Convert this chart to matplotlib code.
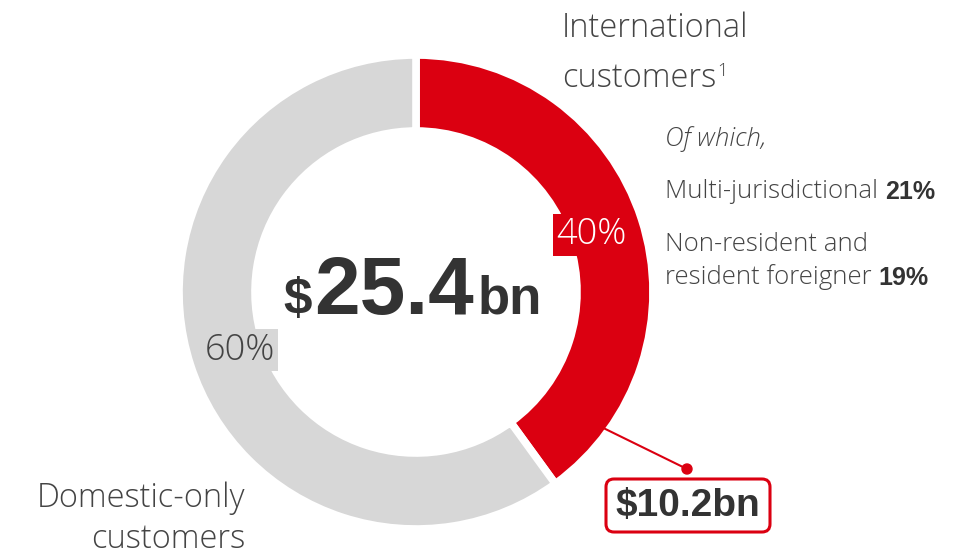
import numpy as np
import matplotlib.pyplot as plt
from matplotlib.patches import FancyBboxPatch, Circle

# -----------------------
# Data
# -----------------------
segments = ["International customers", "Domestic-only customers"]
shares = [40, 60]                      # % of revenue
seg_colors = ["#db0011", "#d7d7d7"]
total_bn = 25.4
intl_bn = 10.2
sub_labels = ["Multi-jurisdictional", "Non-resident and\nresident foreigner"]
sub_shares = [21, 19]

# -----------------------
# Layout (pixel space, y up)
# -----------------------
W, H = 957, 555
cx, cy = 416, H - 292
R_out, ring = 237, 76
dark = "#333333"
grey_txt = "#444444"
font = "Open Sans"
bold_font = "Liberation Sans"

fig = plt.figure(figsize=(W / 100, H / 100), dpi=100)
ax = fig.add_axes([0, 0, 1, 1])

ax.pie(shares, colors=seg_colors, startangle=90, counterclock=False,
       radius=R_out, center=(cx, cy),
       wedgeprops=dict(width=ring, edgecolor="white", linewidth=5.5))
ax.set_xlim(0, W)
ax.set_ylim(0, H)
ax.set_aspect("auto")
ax.axis("off")

# percentage tags on the ring
ax.text(591, H - 235, f"{shares[0]}%", color="white", fontsize=26, family=font,
        fontweight="light", ha="center", va="center",
        bbox=dict(boxstyle="square,pad=0.08", fc=seg_colors[0], ec="none"))
ax.text(240, H - 350, f"{shares[1]}%", color=grey_txt, fontsize=26, family=font,
        fontweight="light", ha="center", va="center",
        bbox=dict(boxstyle="square,pad=0.08", fc=seg_colors[1], ec="none"))

# centre total
base = H - 314
ax.text(312, base, "$", fontsize=37, family=bold_font, fontweight="bold",
        color=dark, ha="right", va="baseline")
ax.text(314, base, f"{total_bn}", fontsize=59, family=bold_font, fontweight="bold",
        color=dark, ha="left", va="baseline")
ax.text(478, base, "bn", fontsize=38, family=bold_font, fontweight="bold",
        color=dark, ha="left", va="baseline")

# segment names
ax.text(562, H - 37, "International", fontsize=23.5, family=font,
        fontweight="light", color=grey_txt, ha="left", va="baseline")
t0 = ax.text(562, H - 87, "customers", fontsize=23.5, family=font,
             fontweight="light", color=grey_txt, ha="left", va="baseline")
ax.annotate("1", xycoords=t0, xy=(1, 0), xytext=(1, 14), textcoords="offset points",
            fontsize=13, family=font, fontweight="light", color=grey_txt,
            va="baseline")
ax.text(245, H - 507, "Domestic-only", fontsize=23.5, family=font,
        fontweight="light", color=grey_txt, ha="right", va="baseline")
ax.text(245, H - 548, "customers", fontsize=23.5, family=font,
        fontweight="light", color=grey_txt, ha="right", va="baseline")

# breakdown of international
ax.text(665, H - 146, "Of which,", fontsize=18.5, family=font, style="italic",
        fontweight="light", color=grey_txt, ha="left", va="baseline")
t = ax.text(665, H - 198, sub_labels[0] + " ", fontsize=18.5, family=font,
            fontweight="light", color=grey_txt, ha="left", va="baseline")
ax.annotate(f"{sub_shares[0]}%", xycoords=t, xy=(1, 0), fontsize=18,
            family=bold_font, fontweight="bold", color=dark, va="bottom")
ax.text(665, H - 251, sub_labels[1].split("\n")[0], fontsize=18.5, family=font,
        fontweight="light", color=grey_txt, ha="left", va="baseline")
t2 = ax.text(665, H - 284, sub_labels[1].split("\n")[1] + " ", fontsize=18.5,
             family=font, fontweight="light", color=grey_txt, ha="left",
             va="baseline")
ax.annotate(f"{sub_shares[1]}%", xycoords=t2, xy=(1, 0), fontsize=18,
            family=bold_font, fontweight="bold", color=dark, va="bottom")

# leader line to the international value
ang = np.deg2rad(90 - 126)
r0 = 231
x0, y0 = cx + r0 * np.cos(ang), cy + r0 * np.sin(ang)
x1, y1 = 687, H - 469
ax.plot([x0, x1], [y0, y1], color=seg_colors[0], lw=1.5)
ax.add_patch(Circle((x1, y1), 5, color=seg_colors[0]))

box = FancyBboxPatch((609, H - 529), 158, 47, boxstyle="round,pad=3,rounding_size=8",
                     fc="white", ec=seg_colors[0], lw=2.2)
ax.add_patch(box)
ax.text(688, H - 506, f"${intl_bn}bn", fontsize=28, family=bold_font,
        fontweight="bold", color=dark, ha="center", va="center")

fig.savefig("out.png", dpi=100)
